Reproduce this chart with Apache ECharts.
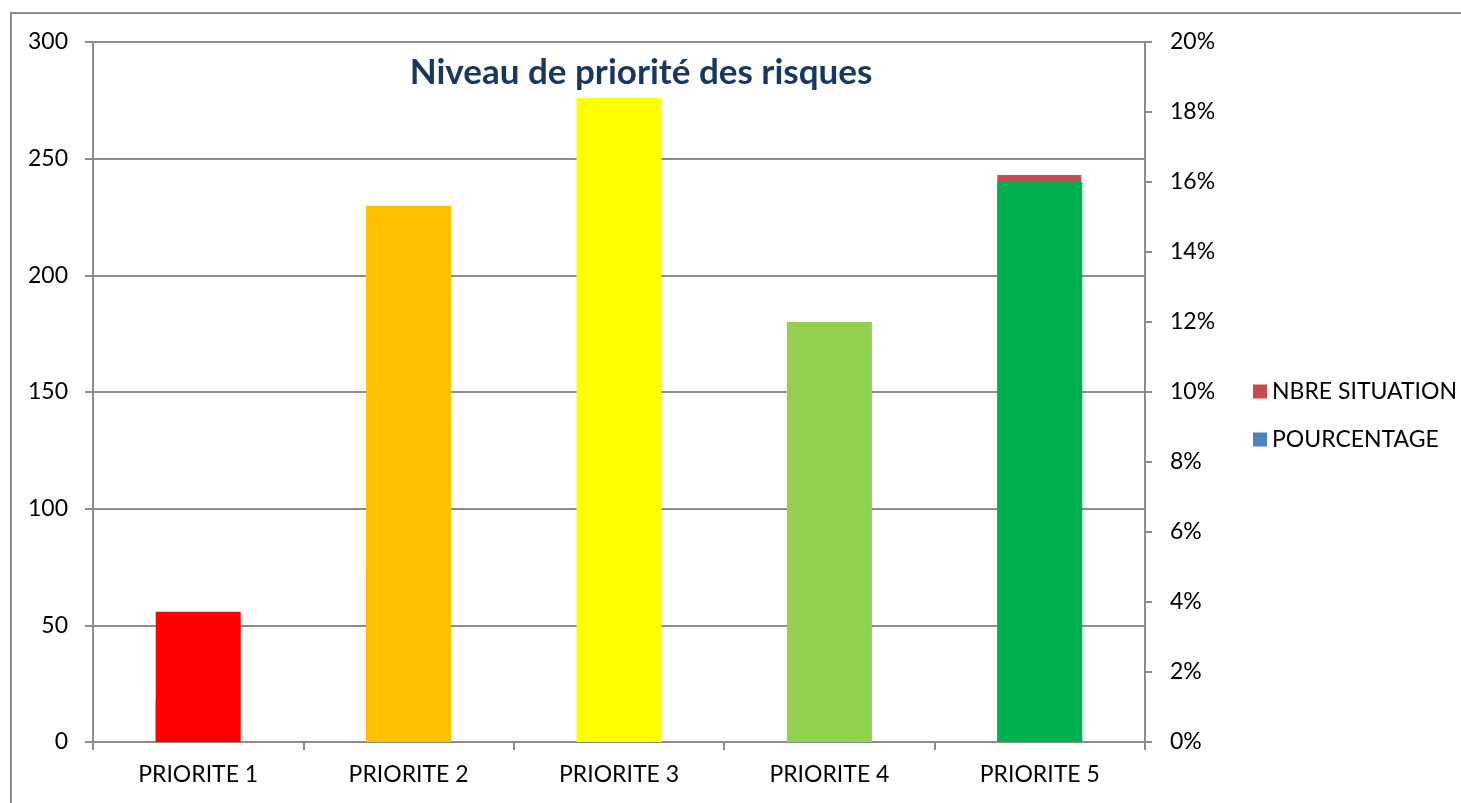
<!DOCTYPE html>
<html>
<head>
<meta charset="utf-8">
<script src="https://cdn.jsdelivr.net/npm/echarts@6/dist/echarts.min.js"></script>
<style>
html,body{margin:0;padding:0;background:#fff;}
#chart{width:1461px;height:803px;}
</style>
</head>
<body>
<div id="chart"></div>
<script>
const categories = ['PRIORITE 1', 'PRIORITE 2', 'PRIORITE 3', 'PRIORITE 4', 'PRIORITE 5'];
const nbreSituation = [18, 74, null, null, 243];
const pourcentage = [3.72, 15.32, 18.4, 12.0, 16.0];
const pointColors = ['#FF0000', '#FFC000', '#FFFF00', '#92D050', '#00B050'];
const leftTicks = [0, 50, 100, 150, 200, 250, 300];
const rightTicks = [0, 2, 4, 6, 8, 10, 12, 14, 16, 18, 20];

const FONT = 'Lato';
const chart = echarts.init(document.getElementById('chart'));
chart.setOption({
  animation: false,
  backgroundColor: '#fff',
  graphic: [{
    type: 'rect', shape: { x: 11, y: 13, width: 1470, height: 820 },
    style: { fill: 'none', stroke: '#8c8c8c', lineWidth: 2 }, silent: true, z: -1
  }],
  title: {
    text: 'Niveau de priorité des risques',
    left: 636, top: 50, textAlign: 'center',
    textStyle: { fontFamily: FONT, fontWeight: 'bold', fontSize: 35, color: '#17375E' }
  },
  legend: {
    orient: 'vertical', left: 1248, top: 375, itemGap: 25,
    icon: 'rect', itemWidth: 14, itemHeight: 14,
    textStyle: { fontFamily: FONT, fontSize: 23, color: '#000' },
    data: ['NBRE SITUATION', 'POURCENTAGE']
  },
  grid: { left: 93, right: 316, top: 42, bottom: 61 },
  xAxis: {
    type: 'category', data: categories,
    axisLine: { lineStyle: { color: '#8c8c8c', width: 2 } },
    axisTick: { show: true, length: 8, lineStyle: { color: '#8c8c8c', width: 2 } },
    axisLabel: { fontFamily: FONT, fontSize: 23, color: '#000', margin: 21 }
  },
  yAxis: [{
    type: 'value', min: leftTicks[0], max: leftTicks[leftTicks.length - 1], interval: 50,
    axisLine: { show: true, lineStyle: { color: '#8c8c8c', width: 2 } },
    axisTick: { show: true, length: 8, lineStyle: { color: '#8c8c8c', width: 2 } },
    axisLabel: { fontFamily: FONT, fontSize: 23, color: '#000', margin: 25 },
    splitLine: { show: true, lineStyle: { color: '#8c8c8c', width: 2 } }
  }, {
    type: 'value', min: rightTicks[0], max: rightTicks[rightTicks.length - 1], interval: 2,
    position: 'right',
    axisLine: { show: true, lineStyle: { color: '#8c8c8c', width: 2 } },
    axisTick: { show: true, length: 7, lineStyle: { color: '#8c8c8c', width: 2 } },
    axisLabel: { fontFamily: FONT, fontSize: 23, color: '#000', margin: 25, formatter: '{value}%' },
    splitLine: { show: false }
  }],
  series: [{
    name: 'NBRE SITUATION', type: 'bar', yAxisIndex: 0,
    data: nbreSituation, barWidth: 84, barGap: '-100%',
    itemStyle: { color: '#C0504D' }
  }, {
    name: 'POURCENTAGE', type: 'bar', yAxisIndex: 1,
    data: pourcentage.map((v, i) => ({ value: v, itemStyle: { color: pointColors[i] } })),
    barWidth: 85, barGap: '-100%',
    itemStyle: { color: '#4F81BD' }
  }]
});
</script>
</body>
</html>
